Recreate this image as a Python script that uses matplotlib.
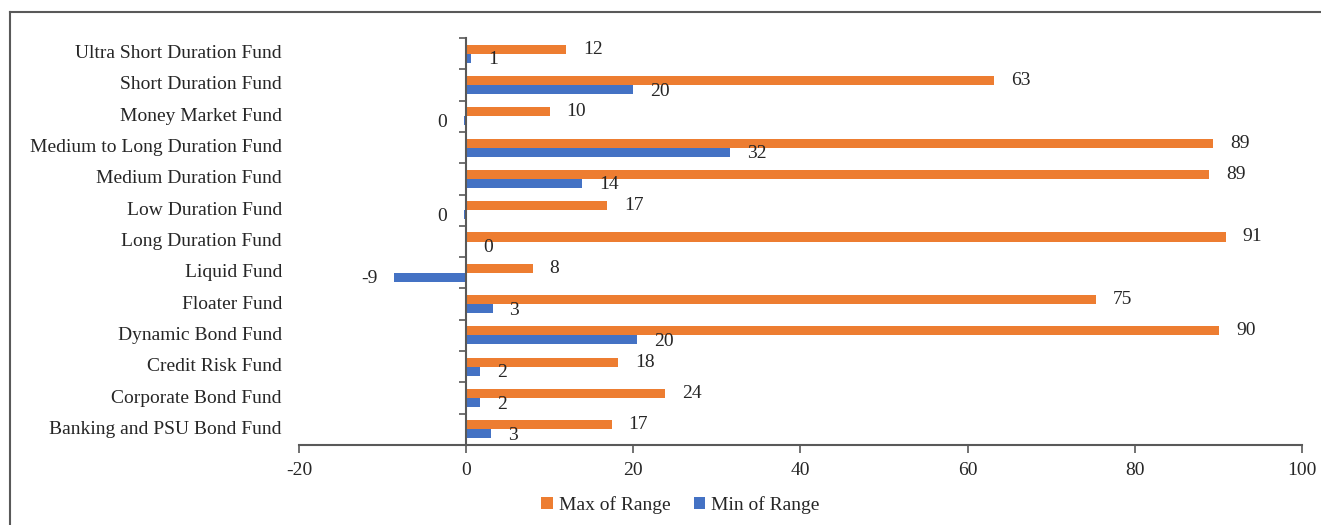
import matplotlib
matplotlib.use("Agg")
import matplotlib.pyplot as plt
from matplotlib.lines import Line2D
import matplotlib.transforms as mtransforms

# data (bottom to top, as drawn)
funds = [
    "Banking and PSU Bond Fund",
    "Corporate Bond Fund",
    "Credit Risk Fund",
    "Dynamic Bond Fund",
    "Floater Fund",
    "Liquid Fund",
    "Long Duration Fund",
    "Low Duration Fund",
    "Medium Duration Fund",
    "Medium to Long Duration Fund",
    "Money Market Fund",
    "Short Duration Fund",
    "Ultra Short Duration Fund",
]
max_range = [17.4, 23.8, 18.2, 90.1, 75.4, 8.0, 90.9, 16.9, 88.9, 89.4, 10.0, 63.2, 12.0]
min_range = [3.0, 1.7, 1.7, 20.5, 3.2, -8.6, 0.0, -0.3, 13.9, 31.6, -0.3, 20.0, 0.6]

orange = "#ED7D31"
blue = "#4472C4"
axis_col = "#595959"
txt_col = "#262626"
fs = 14

plt.rcParams["font.family"] = ["Liberation Serif", "DejaVu Serif"]
plt.rcParams["axes.unicode_minus"] = False

fig = plt.figure(figsize=(13.21, 5.25), dpi=100)
ax = fig.add_axes([0.2263, 0.1524, 0.7593, 0.7752])

bh = 0.29
ypos = list(range(len(funds)))
ax.barh([y + bh / 2 for y in ypos], max_range, height=bh, color=orange, label="Max of Range")
ax.barh([y - bh / 2 for y in ypos], min_range, height=bh, color=blue, label="Min of Range")

# data labels
for y, vmax, vmin in zip(ypos, max_range, min_range):
    for v, yy in ((vmax, y + bh / 2), (vmin, y - bh / 2 - 0.05)):
        txt = str(int(round(v)))
        if v < 0:
            ax.annotate(txt, (v, yy), xytext=(-12, 0), textcoords="offset points",
                        ha="right", va="center", fontsize=fs, color=txt_col)
        else:
            ax.annotate(txt, (v, yy), xytext=(12, 0), textcoords="offset points",
                        ha="left", va="center", fontsize=fs, color=txt_col)

ax.set_xlim(-20, 100)
ax.set_ylim(-0.5, len(funds) - 0.5)
ax.set_xticks(range(-20, 101, 20))
ax.tick_params(axis="x", direction="out", length=6, width=1.2, color=axis_col,
               labelsize=fs, labelcolor=txt_col, pad=6)

# y axis sits at zero; ticks at category boundaries
ax.spines["left"].set_position(("data", 0))
ax.set_yticks([y - 0.5 for y in ypos] + [len(funds) - 0.5])
ax.set_yticklabels([])
ax.tick_params(axis="y", direction="out", length=5, width=1.2, color=axis_col)
for s in ("top", "right"):
    ax.spines[s].set_visible(False)
for s in ("left", "bottom"):
    ax.spines[s].set_color(axis_col)
    ax.spines[s].set_linewidth(1.5)

# category names at the left of the plot area
trans = mtransforms.blended_transform_factory(ax.transAxes, ax.transData)
for y, name in zip(ypos, funds):
    ax.text(-0.017, y, name, transform=trans, ha="right", va="center",
            fontsize=fs, color=txt_col)

handles, labels = ax.get_legend_handles_labels()
fig.legend(handles, labels, loc="center", bbox_to_anchor=(0.515, 0.038), ncol=2, frameon=False,
           fontsize=fs, handlelength=0.6, handleheight=0.6, handletextpad=0.3,
           columnspacing=1.2, labelcolor=txt_col)

# page frame
fig.add_artist(Line2D([10 / 1321, 1], [1 - 12 / 525, 1 - 12 / 525], color=axis_col, lw=1.5,
                      transform=fig.transFigure))
fig.add_artist(Line2D([10 / 1321, 10 / 1321], [0, 1 - 12 / 525], color=axis_col, lw=1.5,
                      transform=fig.transFigure))

fig.savefig("out.png", dpi=100)
